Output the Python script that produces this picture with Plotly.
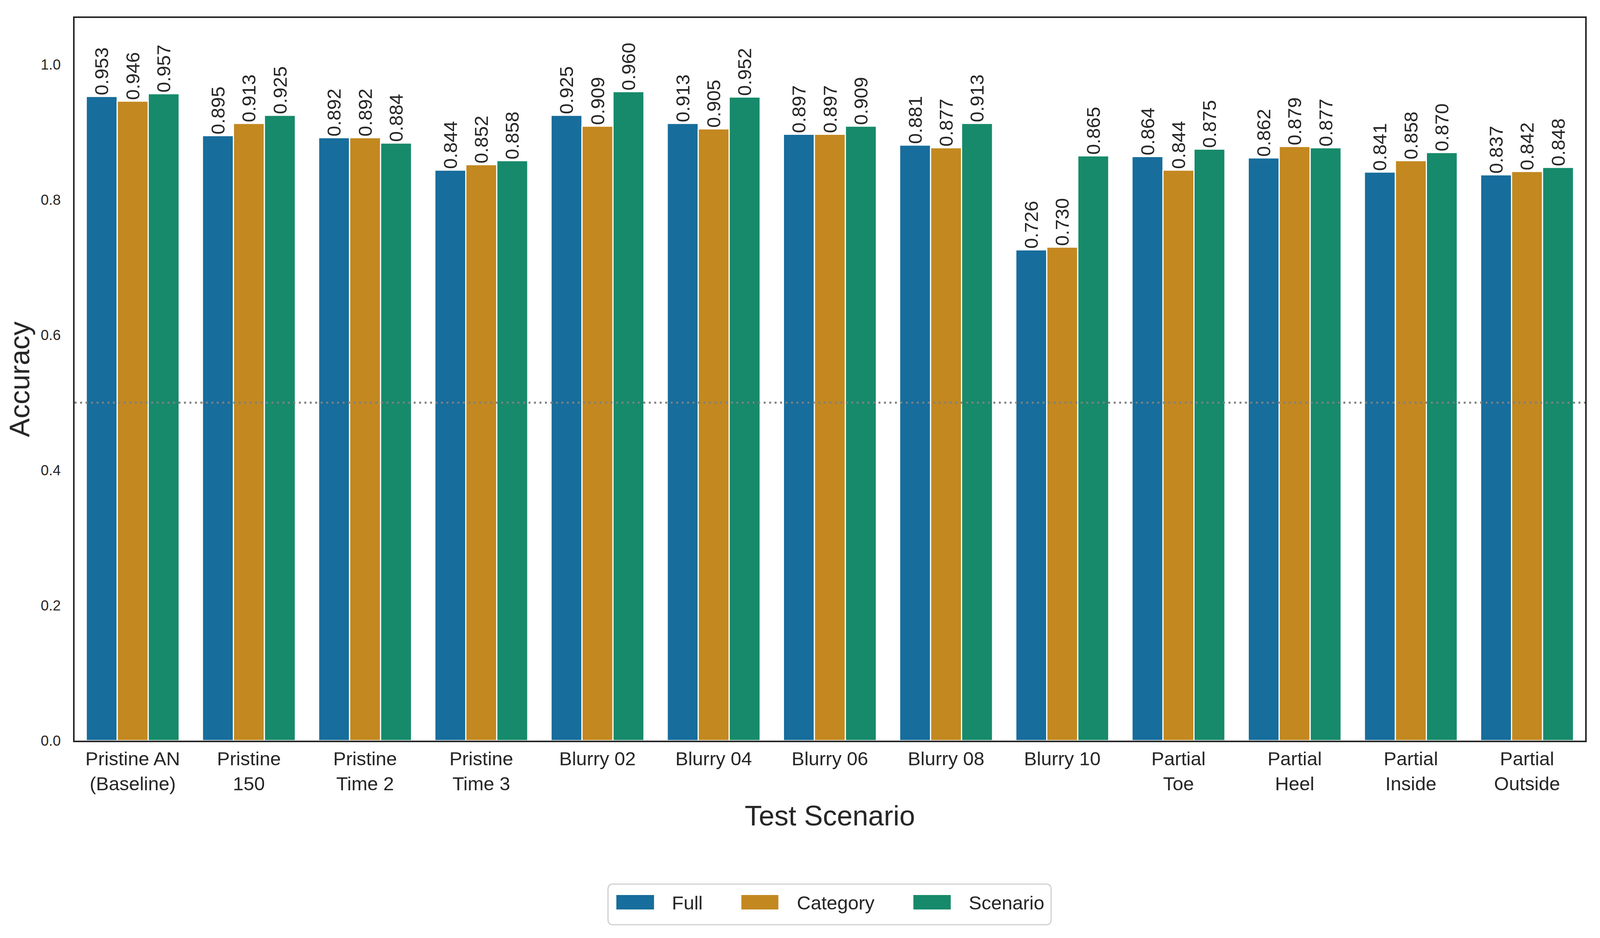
import plotly.graph_objects as go

# ---------------- data ----------------
categories = ["Pristine AN (Baseline)", "Pristine 150", "Pristine Time 2", "Pristine Time 3",
              "Blurry 02", "Blurry 04", "Blurry 06", "Blurry 08", "Blurry 10",
              "Partial Toe", "Partial Heel", "Partial Inside", "Partial Outside"]
tick_labels = ["Pristine AN<br>(Baseline)", "Pristine<br>150", "Pristine<br>Time 2", "Pristine<br>Time 3",
               "Blurry 02", "Blurry 04", "Blurry 06", "Blurry 08", "Blurry 10",
               "Partial<br>Toe", "Partial<br>Heel", "Partial<br>Inside", "Partial<br>Outside"]
series_names = ["Full", "Category", "Scenario"]
full_acc = [0.953, 0.895, 0.892, 0.844, 0.925, 0.913, 0.897, 0.881, 0.726, 0.864, 0.862, 0.841, 0.837]
category_acc = [0.946, 0.913, 0.892, 0.852, 0.909, 0.905, 0.897, 0.877, 0.730, 0.844, 0.879, 0.858, 0.842]
scenario_acc = [0.957, 0.925, 0.884, 0.858, 0.960, 0.952, 0.909, 0.913, 0.865, 0.875, 0.877, 0.870, 0.848]
y_ticks = [0.0, 0.2, 0.4, 0.6, 0.8, 1.0]
y_tick_labels = ["0.0", "0.2", "0.4", "0.6", "0.8", "1.0"]
threshold = 0.5
x_title = "Test Scenario"
y_title = "Accuracy"

# ---------------- style / geometry ----------------
colors = ["#176D9C", "#C38820", "#168A6A"]
TEXT = "#262626"
FONT = "Liberation Sans, Arial, sans-serif"

# the browser viewport is 4096 px wide; lay out the 4800-wide design horizontally scaled
W, H = 4096, 2400
SX = W / 4800.0

def sx(v):
    return v * SX

L, R, T, B = sx(224), sx(4755), 46, 1895

def px_x(px_ref):
    return (sx(px_ref) - L) / (R - L)

def px_y(py):
    return (B - py) / (B - T)

fig = go.Figure()
for name, vals, col in zip(series_names, [full_acc, category_acc, scenario_acc], colors):
    fig.add_trace(go.Bar(
        name=name, x=categories, y=vals,
        marker=dict(color=col, line=dict(color="white", width=3)),
        text=[f"{v:.3f}" for v in vals], textposition="outside", textangle=-90,
        constraintext="none",
        textfont=dict(family=FONT, size=49, color=TEXT),
        cliponaxis=False, showlegend=False,
    ))

fig.add_shape(type="line", xref="paper", yref="y", x0=0, x1=1, y0=threshold, y1=threshold,
              line=dict(color="#808080", width=5, dash="5px,9px"), layer="above")

# ---------------- legend (drawn manually for matplotlib-sized swatches) ----------------
bx0, bx1, by0, by1, rad = 1824, 3153, 2262, 2366, 14
rx, ry = sx(rad) / (R - L), rad / (B - T)
X0, X1, Y0, Y1 = px_x(bx0), px_x(bx1), px_y(by0), px_y(by1)
path = (f"M{X0+rx},{Y0} L{X1-rx},{Y0} Q{X1},{Y0} {X1},{Y0-ry} L{X1},{Y1+ry} Q{X1},{Y1} {X1-rx},{Y1} "
        f"L{X0+rx},{Y1} Q{X0},{Y1} {X0},{Y1+ry} L{X0},{Y0-ry} Q{X0},{Y0} {X0+rx},{Y0} Z")
fig.add_shape(type="path", xref="paper", yref="paper", path=path,
              line=dict(color="#d0d0d0", width=3), fillcolor="white", layer="above")
swatch_x = [(1849, 1962), (2224, 2335), (2740, 2852)]
text_x = [2013, 2388, 2904]
for (sx0, sx1), tx, name, col in zip(swatch_x, text_x, series_names, colors):
    fig.add_shape(type="rect", xref="paper", yref="paper",
                  x0=px_x(sx0), x1=px_x(sx1), y0=px_y(2290), y1=px_y(2327),
                  fillcolor=col, line=dict(width=0), layer="above")
    fig.add_annotation(xref="paper", yref="paper", x=px_x(tx), y=px_y(2310),
                       xanchor="left", yanchor="middle", text=name, showarrow=False,
                       font=dict(family=FONT, size=49, color=TEXT))

fig.update_layout(
    width=W, height=H,
    margin=dict(l=L, r=W - R, t=T, b=H - B),
    paper_bgcolor="white", plot_bgcolor="white",
    barmode="group", bargap=0.2, bargroupgap=0,
    font=dict(family=FONT, color=TEXT),
    showlegend=False,
)
fig.update_xaxes(
    type="category", tickmode="array", tickvals=categories, ticktext=tick_labels,
    tickfont=dict(family=FONT, size=49, color=TEXT), ticks="", ticklabelstandoff=0,
    showline=True, mirror=True, linecolor=TEXT, linewidth=4,
    showgrid=False, zeroline=False,
    title=dict(text=x_title, font=dict(family=FONT, size=72, color=TEXT), standoff=32),
)
fig.update_yaxes(
    range=[0, 1.069], tickmode="array", tickvals=y_ticks, ticktext=y_tick_labels,
    tickfont=dict(family=FONT, size=37, color=TEXT), ticks="", ticklabelstandoff=24,
    showline=True, mirror=True, linecolor=TEXT, linewidth=4,
    showgrid=False, zeroline=False,
    title=dict(text=y_title, font=dict(family=FONT, size=72, color=TEXT), standoff=6),
)

post = "document.body.style.margin='0';document.documentElement.style.overflow='hidden';"
fig.write_html("out.html", post_script=post, config={"displayModeBar": False})
